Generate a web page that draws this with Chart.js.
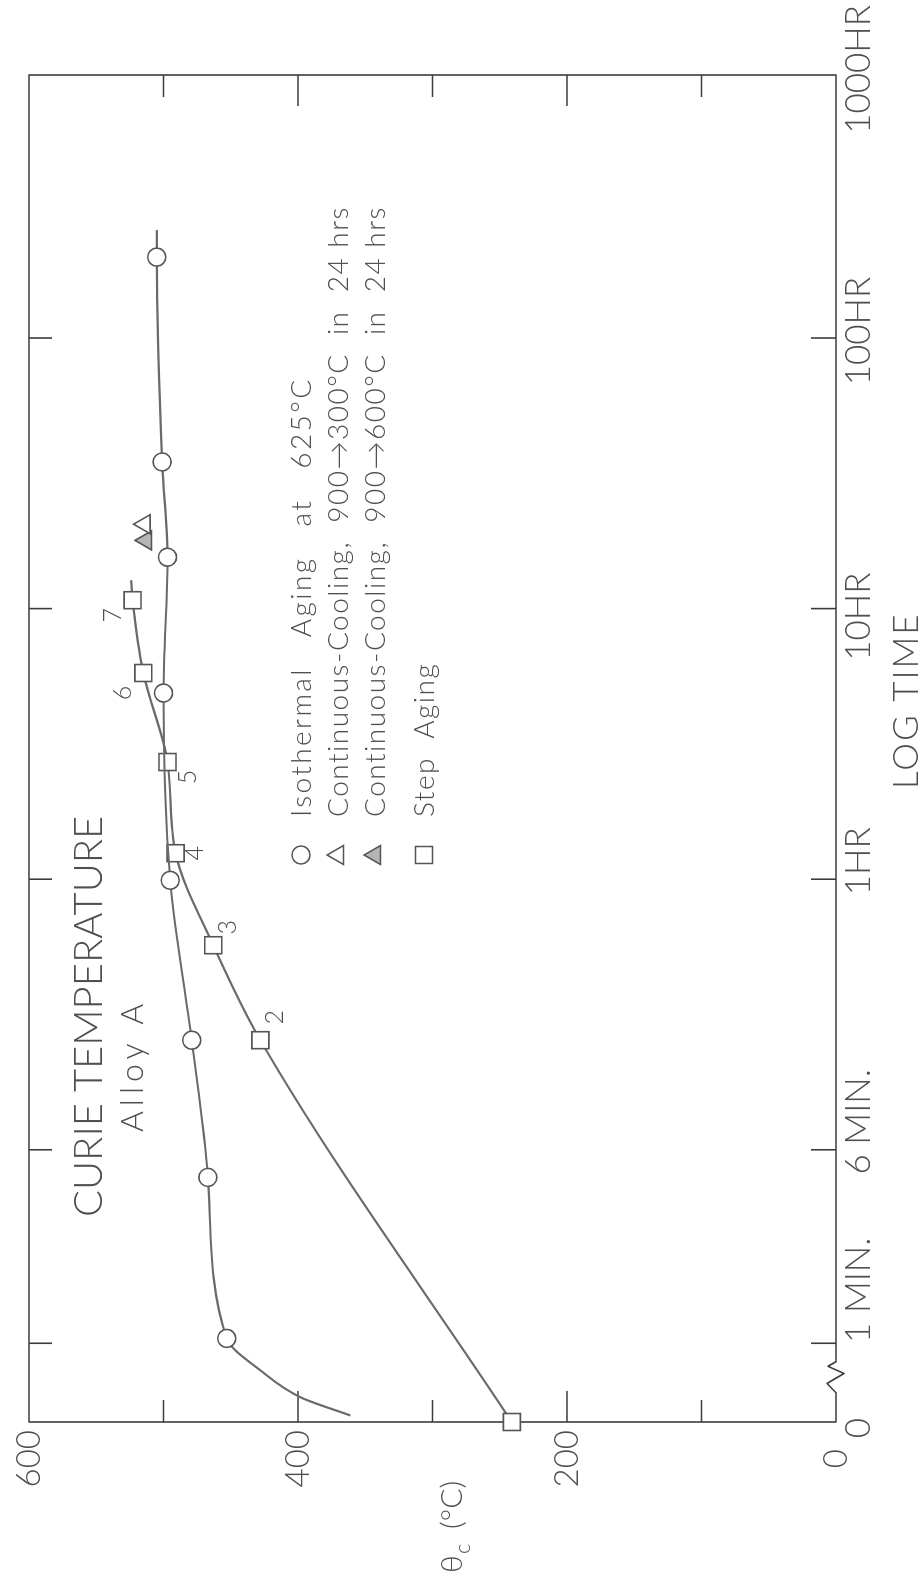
<!DOCTYPE html>
<html>
<head>
<title>Curie temperature - Alloy A</title>
<script src="https://cdn.jsdelivr.net/npm/chart.js@4.4.1/dist/chart.umd.min.js"></script>
<style>
  html, body { margin: 0; padding: 0; background: #fff; }
  body { width: 922px; height: 1585px; overflow: hidden; position: relative; }
  /* the sheet is drawn landscape and turned a quarter left, like the scan */
  #turn { position: absolute; left: 0; top: 0; width: 1585px; height: 922px;
          transform-origin: 0 0; transform: translate(0, 1585px) rotate(-90deg); }
</style>
</head>
<body>
<div id="turn"><canvas id="curie" width="1585" height="922"></canvas></div>
<script>
// time axis is in log decades of minutes (1 MIN. = 0), broken between 0 and 1 MIN.
const TIME_ZERO = -0.228;
const TIME_END = 4.75;
const timeTicks = [TIME_ZERO, 0.063, 0.778, 1.778, 2.778, 3.778, 4.778];
const timeLabels = ['0', '1 MIN.', '6 MIN.', '1HR', '10HR', '100HR', '1000HR'];
const tempTicks = [0, 200, 400, 600];
const tempMinor = [100, 300, 500];

// isothermal aging at 625 C (circles), unmarked points only carry the curve
const isoLogT = [-0.204, -0.137, -0.037, 0.081, 0.676, 1.183, 1.774, 2.466, 2.968, 3.32, 4.077, 4.177];
const isoTemp = [361, 398, 428, 453, 467, 479, 495, 500, 497, 501, 505, 505];
const isoMark = [0, 0, 0, 1, 1, 1, 1, 1, 1, 1, 1, 0];

// step aging (squares), numbered steps
const stepLogT = [TIME_ZERO, 1.183, 1.534, 1.874, 2.211, 2.54, 2.809, 2.883];
const stepTemp = [241, 428, 463, 491, 497, 515, 523, 524];
const stepMark = [1, 1, 1, 1, 1, 1, 1, 0];
const stepNums = ['', '2', '3', '4', '5', '6', '7', ''];

// continuous cooling in 24 hrs
const coolLowLogT = [3.09];
const coolLowTemp = [514];
const coolHighLogT = [3.03];
const coolHighTemp = [513];

const legendText = [
  'Isothermal   Aging   at   625°C',
  'Continuous-Cooling,  900→300°C  in  24 hrs',
  'Continuous-Cooling,  900→600°C  in  24 hrs',
  'Step  Aging'
];

const ink = '#4f4f4f';
const lineInk = '#6a6a6a';
const fam = 'Lato, "DejaVu Sans", sans-serif';
const font = (size, weight) => (weight || 300) + ' ' + size + 'px ' + fam;

// label nudges along the time axis, px
const timeLabelShift = [-6, 53, 28, 18, -8, 7, -2];
const stepNumShift = [[0, 0], [23, 15], [18, 15], [0, 19], [-15, 20], [-20, -20], [-15, -20], [0, 0]];
const legendSpacing = ['2.4px', '1.5px', '1.5px', '1.5px'];

const pts = (xs, ys) => xs.map((v, i) => ({x: v, y: ys[i]}));

const paper = {
  id: 'paper',
  beforeDatasetsDraw(chart) {
    const {ctx, chartArea: a, scales: {x, y}} = chart;
    ctx.save();
    ctx.strokeStyle = '#3c3c3c';
    ctx.lineWidth = 1.6;
    ctx.lineJoin = 'round';
    // frame with the axis break
    const b0 = x.getPixelForValue(-0.12), b1 = x.getPixelForValue(-0.005);
    const zig = [[0, 0], [0.3, -9], [0.62, 8], [0.85, -8], [1, 0]];
    ctx.beginPath();
    ctx.moveTo(a.left, a.top);
    ctx.lineTo(a.left, a.bottom);
    zig.forEach(([f, d]) => ctx.lineTo(b0 + f * (b1 - b0), a.bottom + d));
    ctx.lineTo(a.right, a.bottom);
    ctx.lineTo(a.right, a.top);
    ctx.closePath();
    ctx.stroke();
    // inward ticks
    ctx.beginPath();
    timeTicks.forEach((v, i) => {
      if (i === 0 || v > TIME_END) return;
      const px = x.getPixelForValue(v);
      ctx.moveTo(px, a.bottom); ctx.lineTo(px, a.bottom - 25);
      ctx.moveTo(px, a.top); ctx.lineTo(px, a.top + 23);
    });
    tempTicks.concat(tempMinor).forEach(v => {
      if (v === 0 || v === 600) return;
      const py = y.getPixelForValue(v);
      const len = v % 200 === 0 ? 31 : 22;
      ctx.moveTo(a.left, py); ctx.lineTo(a.left + len, py);
      ctx.moveTo(a.right, py); ctx.lineTo(a.right - len, py);
    });
    ctx.stroke();
    ctx.restore();
  },
  afterDraw(chart) {
    const {ctx, chartArea: a, scales: {x, y}} = chart;
    ctx.save();
    ctx.fillStyle = ink;
    ctx.textBaseline = 'alphabetic';

    // time tick labels
    ctx.font = font(35);
    ctx.textAlign = 'center';
    timeTicks.forEach((v, i) => {
      ctx.fillText(timeLabels[i], x.getPixelForValue(v) + timeLabelShift[i], a.bottom + 34);
    });

    ctx.textAlign = 'left';
    // axis titles
    ctx.font = font(35);
    ctx.letterSpacing = '2px';
    ctx.fillText('LOG TIME', 796, 918);
    ctx.letterSpacing = '0px';
    ctx.font = font(30);
    ctx.fillText('θ', 12, 462);
    ctx.font = font(22);
    ctx.fillText('c', 31, 470);
    ctx.font = font(30);
    ctx.fillText('(°C)', 56, 462);

    // heading
    ctx.font = font(40);
    ctx.fillText('CURIE TEMPERATURE', 368, 102);
    ctx.font = font(32);
    ctx.letterSpacing = '5px';
    ctx.fillText('Alloy A', 453, 143);

    // step numbers next to the squares
    ctx.letterSpacing = '0px';
    ctx.font = font(25);
    ctx.textAlign = 'center';
    ctx.textBaseline = 'middle';
    stepNums.forEach((n, i) => {
      if (!n) return;
      const px = x.getPixelForValue(stepLogT[i]) + stepNumShift[i][0];
      const py = y.getPixelForValue(stepTemp[i]) + stepNumShift[i][1];
      ctx.fillText(n, px, py);
    });

    // legend
    const rows = [301, 338, 375, 424];
    const marks = [
      {pointStyle: 'circle', radius: 9, fill: '#fff'},
      {pointStyle: 'triangle', radius: 11, fill: '#fff'},
      {pointStyle: 'triangle', radius: 11, fill: '#b5b5b5'},
      {pointStyle: 'rect', radius: 12, fill: '#fff'}
    ];
    ctx.textAlign = 'left';
    ctx.textBaseline = 'alphabetic';
    rows.forEach((ry, i) => {
      const m = marks[i];
      ctx.fillStyle = m.fill;
      ctx.strokeStyle = '#555';
      ctx.lineWidth = 1.5;
      Chart.helpers.drawPoint(ctx, {pointStyle: m.pointStyle, radius: m.radius, rotation: 0, borderWidth: 1.5}, 730, ry);
      ctx.fillStyle = ink;
      ctx.font = font(28);
      ctx.letterSpacing = legendSpacing[i];
      ctx.fillText(legendText[i], 768, ry + 10);
    });
    ctx.restore();
  }
};

const markStyle = {
  pointBackgroundColor: '#fff',
  pointBorderColor: '#555',
  pointBorderWidth: 1.6,
  borderColor: lineInk,
  borderWidth: 2.2,
  clip: false
};

new Chart(document.getElementById('curie'), {
  type: 'scatter',
  data: {
    datasets: [
      Object.assign({
        label: 'Isothermal Aging at 625°C',
        data: pts(isoLogT, isoTemp),
        showLine: true,
        cubicInterpolationMode: 'monotone',
        pointStyle: 'circle',
        pointRadius: isoMark.map(m => m ? 9 : 0)
      }, markStyle),
      Object.assign({
        label: 'Step Aging',
        data: pts(stepLogT, stepTemp),
        showLine: true,
        cubicInterpolationMode: 'monotone',
        pointStyle: 'rect',
        pointRadius: stepMark.map(m => m ? 12 : 0)
      }, markStyle),
      Object.assign({
        label: 'Continuous-Cooling, 900→300°C in 24 hrs',
        data: pts(coolLowLogT, coolLowTemp),
        pointStyle: 'triangle',
        pointRadius: 11
      }, markStyle),
      Object.assign({
        label: 'Continuous-Cooling, 900→600°C in 24 hrs',
        data: pts(coolHighLogT, coolHighTemp),
        pointStyle: 'triangle',
        pointRadius: 11
      }, markStyle, {pointBackgroundColor: '#b5b5b5'})
    ]
  },
  options: {
    responsive: false,
    devicePixelRatio: 1,
    animation: false,
    events: [],
    layout: {padding: {top: 29, right: 75, left: 0, bottom: 0}},
    plugins: {legend: {display: false}, tooltip: {enabled: false}},
    scales: {
      x: {
        type: 'linear',
        min: TIME_ZERO,
        max: TIME_END,
        ticks: {display: false},
        grid: {display: false, drawTicks: false},
        border: {display: false},
        afterFit(s) { s.height = 86; }
      },
      y: {
        type: 'linear',
        min: 0,
        max: 600,
        afterBuildTicks(s) { s.ticks = tempTicks.map(v => ({value: v})); },
        ticks: {color: ink, padding: 8, crossAlign: 'center', font: {family: fam, size: 33, weight: '300'}},
        grid: {display: false, drawTicks: false},
        border: {display: false},
        afterFit(s) { s.width = 163; }
      }
    }
  },
  plugins: [paper]
});
</script>
</body>
</html>
